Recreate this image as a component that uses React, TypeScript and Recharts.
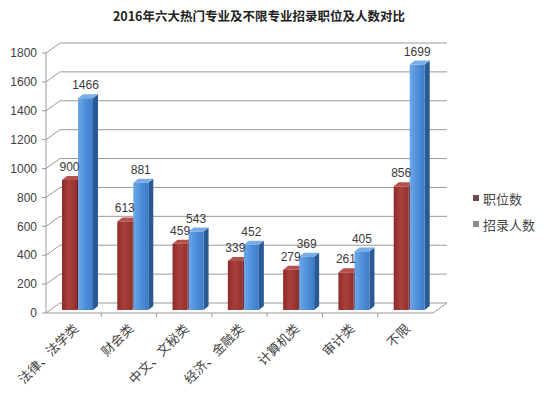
import React from 'react';
import { BarChart, Bar, XAxis, YAxis, CartesianGrid, LabelList } from 'recharts';

const categories = ['法律、法学类', '财会类', '中文、文秘类', '经济、金融类', '计算机类', '审计类', '不限'];
const positions = [900, 613, 459, 339, 279, 261, 856];
const recruits = [1466, 881, 543, 452, 369, 405, 1699];
const yTicks = [0, 200, 400, 600, 800, 1000, 1200, 1400, 1600, 1800];
const seriesNames = ['职位数', '招录人数'];
const title = '2016年六大热门专业及不限专业招录职位及人数对比';

const data = categories.map((c, i) => ({ name: c, positions: positions[i], recruits: recruits[i] }));

const W = 544;
const H = 393;
const X_AXIS_H = 80;
const Y_AXIS_W = 46;
const MARGIN = { top: 53, right: 111, bottom: 0, left: 0 };
const FLOOR_Y = H - X_AXIS_H;
const PLOT_W = W - MARGIN.right - Y_AXIS_W;
const BAND = PLOT_W / categories.length;

const DX = 14, DY = 10; // wall depth
const BX = 4, BY = 3; // bar offset into depth
const SD = 5, TD = 4; // bar side/top depth

const GRID = '#9a9a9a';

const make3DBar = (front: string, side: string, top: string) => (props: any) => {
  const { x, y, width, height } = props;
  if (height == null || isNaN(height)) return null;
  const fx = x + BX, fy = y - BY;
  return (
    <g>
      <polygon
        points={`${fx + width},${fy} ${fx + width + SD},${fy - TD} ${fx + width + SD},${fy + height - TD} ${fx + width},${fy + height}`}
        fill={side}
      />
      <polygon
        points={`${fx},${fy} ${fx + SD},${fy - TD} ${fx + width + SD},${fy - TD} ${fx + width},${fy}`}
        fill={top}
      />
      <rect x={fx} y={fy} width={width} height={height} fill={front} />
    </g>
  );
};

const RedBar = make3DBar('url(#redGrad)', '#6c1e1b', '#b5524d');
const BlueBar = make3DBar('url(#blueGrad)', '#2a5a95', '#78aee8');

const gridLine = (p: any) => {
  const { x1, y1, x2 } = p;
  const isFloor = Math.abs(y1 - FLOOR_Y) < 1;
  return (
    <g key={p.key}>
      <line x1={x1} y1={y1} x2={x1 + DX} y2={y1 - DY} stroke={GRID} strokeWidth={1} />
      <line x1={x1 + DX} y1={y1 - DY} x2={x2 + DX} y2={y1 - DY} stroke={GRID} strokeWidth={1} />
      {isFloor && <line x1={x2} y1={y1} x2={x2 + DX} y2={y1 - DY} stroke={GRID} strokeWidth={1} />}
    </g>
  );
};

const XTick = (props: any) => {
  const { x, payload, index } = props;
  const ax = x + 3;
  const ay = FLOOR_Y + 14;
  return (
    <g>
      {index < categories.length - 1 && (
        <line x1={x + BAND / 2} y1={FLOOR_Y} x2={x + BAND / 2} y2={FLOOR_Y + 4} stroke={GRID} />
      )}
      <text
        x={ax}
        y={ay}
        transform={`rotate(-45 ${ax} ${ay})`}
        textAnchor="end"
        dominantBaseline="middle"
        fontSize={13}
        fill="#444"
        fontFamily="'Noto Sans CJK SC', sans-serif"
      >
        {payload.value}
      </text>
    </g>
  );
};

const ValueLabel = (props: any) => {
  const { x, y, width, value } = props;
  return (
    <text
      x={x + BX + width / 2}
      y={y - BY - 9}
      textAnchor="middle"
      fontSize={12}
      fill="#3a3a3a"
      fontFamily="'Liberation Sans', Arial, sans-serif"
    >
      {value}
    </text>
  );
};

const legendColors = ['#6e4a48', '#8c8c8c'];

export default function App() {
  return (
    <div style={{ position: 'absolute', left: 0, top: 0, width: W, height: H, background: '#fff' }}>
      <div
        style={{
          position: 'absolute',
          left: 0,
          top: 7,
          width: 518,
          textAlign: 'center',
          fontFamily: "'Noto Sans CJK SC', sans-serif",
          fontWeight: 700,
          fontSize: 12.5,
          color: '#222',
          lineHeight: '18px',
        }}
      >
        {title}
      </div>
      <div
        style={{
          position: 'absolute',
          left: 473,
          top: 185,
          fontFamily: "'Noto Sans CJK SC', sans-serif",
          fontSize: 13,
          color: '#444',
          zIndex: 2,
        }}
      >
        {seriesNames.map((n, i) => (
          <div key={n} style={{ display: 'flex', alignItems: 'center', height: 26 }}>
            <span style={{ display: 'inline-block', width: 6, height: 6, background: legendColors[i], marginRight: 4 }} />
            <span>{n}</span>
          </div>
        ))}
      </div>
      <BarChart width={W} height={H} data={data} margin={MARGIN} barSize={15} barGap={1}>
        <defs>
          <linearGradient id="redGrad" x1="0" y1="0" x2="1" y2="0">
            <stop offset="0%" stopColor="#8e2a27" />
            <stop offset="45%" stopColor="#a8413c" />
            <stop offset="100%" stopColor="#93302c" />
          </linearGradient>
          <linearGradient id="blueGrad" x1="0" y1="0" x2="1" y2="0">
            <stop offset="0%" stopColor="#6ea7e6" />
            <stop offset="50%" stopColor="#4f8fda" />
            <stop offset="100%" stopColor="#3f7cc6" />
          </linearGradient>
        </defs>
        <CartesianGrid horizontal={gridLine} vertical={false} />
        <XAxis
          dataKey="name"
          interval={0}
          tickLine={false}
          axisLine={{ stroke: GRID }}
          tick={<XTick />}
          height={X_AXIS_H}
        />
        <YAxis
          domain={[0, 1800]}
          ticks={yTicks}
          interval={0}
          width={Y_AXIS_W}
          tickSize={4}
          tickMargin={5}
          axisLine={{ stroke: GRID }}
          tickLine={{ stroke: GRID }}
          tick={{ fontSize: 12, fill: '#404040', fontFamily: "'Liberation Sans', Arial, sans-serif" }}
        />
        <Bar dataKey="positions" name={seriesNames[0]} fill="#9e3430" shape={RedBar} isAnimationActive={false}>
          <LabelList dataKey="positions" content={ValueLabel} />
        </Bar>
        <Bar dataKey="recruits" name={seriesNames[1]} fill="#4a8ad6" shape={BlueBar} isAnimationActive={false}>
          <LabelList dataKey="recruits" content={ValueLabel} />
        </Bar>
      </BarChart>
    </div>
  );
}
